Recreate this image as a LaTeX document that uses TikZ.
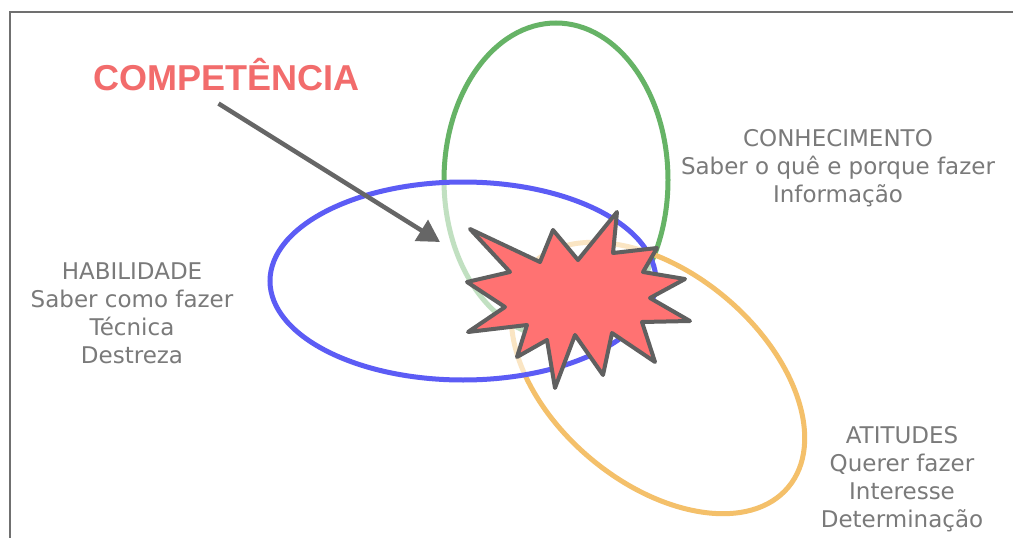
\documentclass[tikz,border=0pt]{standalone}
\usepackage{fontspec}
\usetikzlibrary{arrows.meta,shapes.geometric}
\newfontfamily\bannerfont{Liberation Sans}
\newfontfamily\blockfont{DejaVu Sans}
\definecolor{framegray}{HTML}{707070}
\definecolor{knowgreen}{HTML}{66B366}
\definecolor{skillblue}{HTML}{5C5CF5}
\definecolor{attorange}{HTML}{F4C06A}
\definecolor{burstred}{HTML}{FF7272}
\definecolor{burstgray}{HTML}{606060}
\definecolor{pointergray}{HTML}{666666}
\definecolor{bannerred}{HTML}{F26C6C}
\definecolor{notegray}{HTML}{7A7A7A}
\tikzset{ring/.style = {shape=ellipse,draw,line width=5pt,inner sep=0pt}}
\tikzset{burst/.style = {draw=burstgray,fill=burstred,line width=4pt,line join=round}}
\tikzset{pointer/.style = {-{Triangle[length=22pt,width=24pt]},line width=4.5pt,draw=pointergray}}
\tikzset{banner/.style = {text=bannerred,font=\bannerfont\bfseries\fontsize{36}{40}\selectfont,inner sep=0pt}}
\tikzset{block/.style = {text=notegray,align=center,font=\blockfont\fontsize{23}{27.8}\selectfont,inner sep=0pt}}

\begin{document}
\begin{tikzpicture}[x=1pt,y=-1pt]

\useasboundingbox (0,0) rectangle (1013,538);
\clip (0,0) rectangle (1013,538);
\fill[white] (0,0) rectangle (1013,538);
\draw[draw=framegray,line width=2.5pt] (10,12) rectangle (1040,570);

\node[ring,draw=knowgreen,minimum width=224pt,minimum height=314pt] (knowring) at (556,180) {};
\node[ring,draw=attorange,minimum width=340pt,minimum height=210pt,rotate=-40] (attring) at (658,378) {};
\node[ring,draw=skillblue,fill=white,fill opacity=0.6,minimum width=386pt,minimum height=198pt] (skillring) at (463,281) {};

\draw[burst] (470,229) -- (540,262) -- (553,230) -- (578,260) -- (617,212) -- (613,253)
  -- (657,248) -- (643,272) -- (685,279) -- (650,298) -- (690,321) -- (642,322)
  -- (655,362) -- (612,333) -- (603,375) -- (575,335) -- (555,388) -- (547,340)
  -- (517,357) -- (527,325) -- (468,332) -- (505,307) -- (467,282) -- (510,272) -- cycle;

\node[banner,anchor=base] (comp) at (226.5,90) {COMPETÊNCIA};
\coordinate (aim) at (440,242);
\draw[pointer] ([shift={(-8,13)}]comp.south) -- (aim);

\node[block,anchor=base] (know) at (838,202) {CONHECIMENTO\\Saber o quê e porque fazer\\Informação};
\node[block,anchor=base] (skill) at (132,363) {HABILIDADE\\Saber como fazer\\Técnica\\Destreza};
\node[block,anchor=base] (attitude) at (902,527) {ATITUDES\\Querer fazer\\Interesse\\Determinação};

\end{tikzpicture}
\end{document}
